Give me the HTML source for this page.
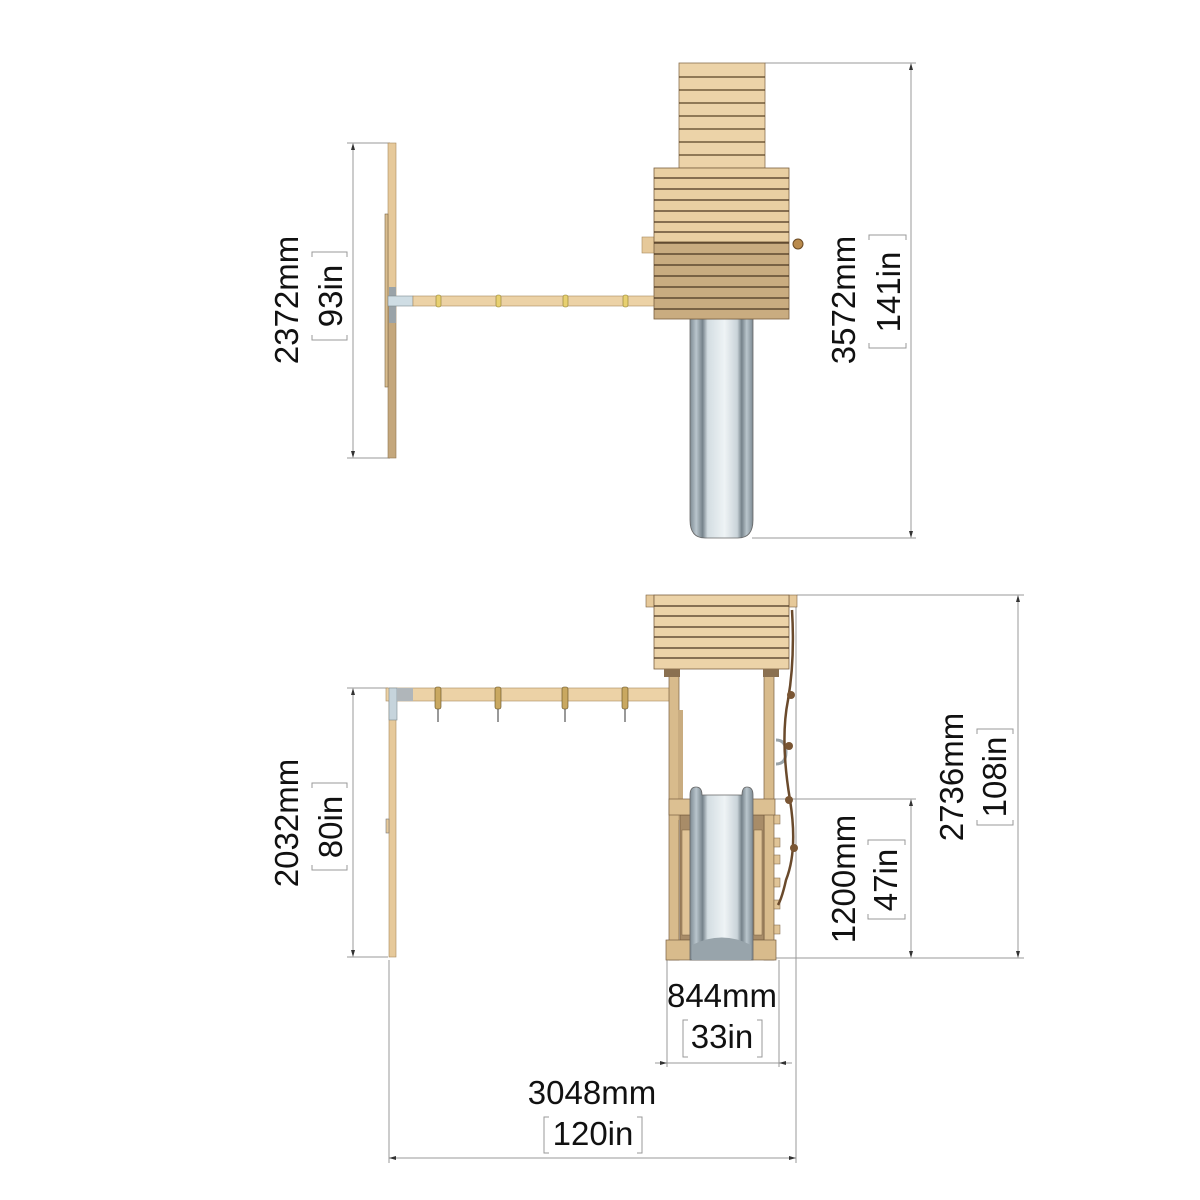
<!DOCTYPE html>
<html><head><meta charset="utf-8"><style>
html,body{margin:0;padding:0;background:#fff;}
svg{display:block;}
text{font-family:"Liberation Sans",sans-serif;font-size:33px;fill:#111;}
</style></head><body>
<svg width="1200" height="1200" viewBox="0 0 1200 1200" xmlns="http://www.w3.org/2000/svg">
<defs>
<linearGradient id="sl" x1="0" x2="1">
<stop offset="0" stop-color="#7d8a93"/><stop offset="0.1" stop-color="#b9c5cc"/><stop offset="0.2" stop-color="#75828a"/><stop offset="0.28" stop-color="#d3dde2"/><stop offset="0.55" stop-color="#eef3f5"/><stop offset="0.75" stop-color="#c9d3d9"/><stop offset="0.82" stop-color="#75828a"/><stop offset="0.9" stop-color="#b9c5cc"/><stop offset="1" stop-color="#7d8a93"/>
</linearGradient>
</defs>
<g stroke="#999" stroke-width="1" fill="none">
<line x1="347" y1="143" x2="390" y2="143"/><line x1="347" y1="458" x2="390" y2="458"/>
<line x1="353" y1="150" x2="353" y2="451"/>
<line x1="765" y1="63" x2="916" y2="63"/><line x1="752" y1="538" x2="916" y2="538"/>
<line x1="911" y1="70" x2="911" y2="531"/>
<line x1="347" y1="688" x2="388" y2="688"/><line x1="347" y1="957" x2="388" y2="957"/>
<line x1="353" y1="695" x2="353" y2="950"/>
<line x1="797" y1="595" x2="1024" y2="595"/><line x1="776" y1="958" x2="1024" y2="958"/>
<line x1="1018" y1="602" x2="1018" y2="951"/>
<line x1="775" y1="799" x2="916" y2="799"/>
<line x1="911" y1="806" x2="911" y2="951"/>
<line x1="667" y1="960" x2="667" y2="1067"/><line x1="779" y1="960" x2="779" y2="1067"/>
<line x1="655" y1="1063" x2="792" y2="1063"/>
<line x1="389" y1="960" x2="389" y2="1163"/><line x1="796" y1="596" x2="796" y2="1163"/>
<line x1="389" y1="1158" x2="796" y2="1158"/>
<path d="M312,257 V252 H347 V257 M312,335 V340 H347 V335"/>
<path d="M869,240 V235 H906 V240 M869,343 V348 H906 V343"/>
<path d="M312,788 V783 H347 V788 M312,865 V870 H347 V865"/>
<path d="M868,845 V840 H905 V845 M868,914 V919 H905 V914"/>
<path d="M977,734 V729 H1013 V734 M977,820 V825 H1013 V820"/>
<path d="M688,1020 H683 V1057 H688 M757,1020 H762 V1057 H757"/>
<path d="M549,1117 H544 V1153 H549 M637,1117 H642 V1153 H637"/>
</g>
<g fill="#333">
<path d="M353,143 l-2,7 h4z M353,458 l-2,-7 h4z M911,63 l-2,7 h4z M911,538 l-2,-7 h4z M353,688 l-2,7 h4z M353,957 l-2,-7 h4z M1018,595 l-2,7 h4z M1018,958 l-2,-7 h4z M911,799 l-2,7 h4z M911,958 l-2,-7 h4z M667,1063 l-7,-2 v4z M779,1063 l7,-2 v4z M389,1158 l7,-2 v4z M796,1158 l-7,-2 v4z"/>
</g>
<text transform="translate(298,300) rotate(-90)" text-anchor="middle">2372mm</text>
<text transform="translate(342,296) rotate(-90)" text-anchor="middle">93in</text>
<text transform="translate(855,300) rotate(-90)" text-anchor="middle">3572mm</text>
<text transform="translate(900,292) rotate(-90)" text-anchor="middle">141in</text>
<text transform="translate(298,823) rotate(-90)" text-anchor="middle">2032mm</text>
<text transform="translate(342,827) rotate(-90)" text-anchor="middle">80in</text>
<text transform="translate(855,879) rotate(-90)" text-anchor="middle">1200mm</text>
<text transform="translate(897,880) rotate(-90)" text-anchor="middle">47in</text>
<text transform="translate(963,777) rotate(-90)" text-anchor="middle">2736mm</text>
<text transform="translate(1006,777) rotate(-90)" text-anchor="middle">108in</text>
<text x="722" y="1007" text-anchor="middle">844mm</text>
<text x="722" y="1048" text-anchor="middle">33in</text>
<text x="592" y="1104" text-anchor="middle">3048mm</text>
<text x="593" y="1145" text-anchor="middle">120in</text>

<rect x="388" y="143" width="8" height="155" fill="#e6c99a" stroke="#a88a5e" stroke-width="0.6"/>
<rect x="388" y="298" width="8" height="160" fill="#c4a77c" stroke="#8f7450" stroke-width="0.6"/>
<rect x="385" y="214" width="3" height="173" fill="#d9bd8f" stroke="#7a6444" stroke-width="0.6"/>
<rect x="389" y="287" width="7" height="36" fill="#9aa3a8"/>
<rect x="388" y="296" width="25" height="10" fill="#cfdde4" stroke="#7d8a90" stroke-width="0.6"/>
<rect x="413" y="296" width="242" height="10" fill="#ecd2a6" stroke="#a88a5e" stroke-width="0.6"/>
<g fill="#e8d070" stroke="#8a7a30" stroke-width="0.6">
<rect x="436" y="295" width="5" height="12" rx="2"/><rect x="496" y="295" width="5" height="12" rx="2"/><rect x="563" y="295" width="5" height="12" rx="2"/><rect x="623" y="295" width="5" height="12" rx="2"/>
</g>
<path d="M690,319 H753 V520 Q753,538 738,538 H705 Q690,538 690,520 Z" fill="url(#sl)" stroke="#666" stroke-width="0.8"/>
<rect x="679" y="63" width="86" height="105" fill="#ecd3a8" stroke="#8a7050" stroke-width="0.8"/>
<g stroke="#5a4326" stroke-width="1.3">
<line x1="679" y1="77" x2="765" y2="77"/><line x1="679" y1="90" x2="765" y2="90"/><line x1="679" y1="103" x2="765" y2="103"/><line x1="679" y1="116" x2="765" y2="116"/><line x1="679" y1="129" x2="765" y2="129"/><line x1="679" y1="142" x2="765" y2="142"/><line x1="679" y1="155" x2="765" y2="155"/>
</g>
<rect x="642" y="237" width="14" height="16" fill="#e6c99a" stroke="#a88a5e" stroke-width="0.6"/>
<circle cx="798" cy="244" r="5" fill="#b98a4c" stroke="#6a4a24"/>
<rect x="654" y="168" width="135" height="74" fill="#e9cfa2" stroke="#7a6040" stroke-width="0.8"/>
<rect x="654" y="242" width="135" height="77" fill="#c9ac80" stroke="#7a6040" stroke-width="0.8"/>
<g stroke="#4a3520" stroke-width="1.3">
<line x1="654" y1="178" x2="789" y2="178"/><line x1="654" y1="189" x2="789" y2="189"/><line x1="654" y1="200" x2="789" y2="200"/><line x1="654" y1="211" x2="789" y2="211"/><line x1="654" y1="222" x2="789" y2="222"/><line x1="654" y1="232" x2="789" y2="232"/><line x1="654" y1="243" x2="789" y2="243"/><line x1="654" y1="254" x2="789" y2="254"/><line x1="654" y1="265" x2="789" y2="265"/><line x1="654" y1="276" x2="789" y2="276"/><line x1="654" y1="287" x2="789" y2="287"/><line x1="654" y1="298" x2="789" y2="298"/><line x1="654" y1="309" x2="789" y2="309"/>
</g>

<rect x="389" y="701" width="7" height="256" fill="#e6c99a" stroke="#a88a5e" stroke-width="0.6"/>
<rect x="386" y="819" width="3" height="14" fill="#e6c99a" stroke="#777" stroke-width="0.6"/>
<rect x="386" y="688" width="292" height="13" fill="#ecd2a6" stroke="#a88a5e" stroke-width="0.6"/>
<rect x="389" y="688" width="8" height="32" fill="#c6d4dc" stroke="#7d8a90" stroke-width="0.6"/>
<rect x="397" y="688" width="16" height="13" fill="#b0b6ba"/>
<g stroke="#555" stroke-width="1.2">
<line x1="438" y1="700" x2="438" y2="722"/><line x1="498" y1="700" x2="498" y2="722"/><line x1="565" y1="700" x2="565" y2="722"/><line x1="625" y1="700" x2="625" y2="722"/>
</g>
<g fill="#c9a860" stroke="#5a4a20" stroke-width="0.6">
<rect x="435" y="687" width="6" height="22" rx="2"/><rect x="495" y="687" width="6" height="22" rx="2"/><rect x="562" y="687" width="6" height="22" rx="2"/><rect x="622" y="687" width="6" height="22" rx="2"/>
</g>
<rect x="669" y="669" width="10" height="291" fill="#d8bb8c" stroke="#7a6040" stroke-width="0.7"/>
<rect x="764" y="669" width="10" height="291" fill="#d8bb8c" stroke="#7a6040" stroke-width="0.7"/>
<rect x="678" y="710" width="5" height="110" fill="#c9ac80"/>
<rect x="680" y="815" width="84" height="125" fill="#a88c68" stroke="#6a5236" stroke-width="0.6"/>
<g fill="#e0c497" stroke="#7a6040" stroke-width="0.5">
<rect x="682" y="830" width="8" height="105"/><rect x="754" y="830" width="8" height="105"/>
<rect x="774" y="815" width="6" height="9"/><rect x="774" y="838" width="6" height="9"/><rect x="774" y="855" width="6" height="9"/><rect x="774" y="878" width="6" height="9"/><rect x="774" y="900" width="6" height="9"/><rect x="774" y="925" width="6" height="9"/>
</g>
<rect x="669" y="799" width="106" height="16" fill="#dcc092" stroke="#7a6040" stroke-width="0.7"/>
<rect x="666" y="940" width="110" height="20" fill="#d8bb8c" stroke="#7a6040" stroke-width="0.7"/>
<path d="M690,795 Q690,787 696,787 Q702,787 702,795 L742,795 Q742,787 747,787 Q753,787 753,795 V960 H690 Z" fill="url(#sl)" stroke="#666" stroke-width="0.8"/>
<path d="M692,945 Q722,930 751,945 V960 H692Z" fill="#98a4ab"/>
<path d="M776,740 Q786,740 786,752 Q786,764 776,764" fill="none" stroke="#9aa3a8" stroke-width="3"/>
<path d="M792,610 Q795,660 788,700 Q780,740 790,800 Q798,850 786,880 Q782,898 778,905" fill="none" stroke="#6a4a2c" stroke-width="2.5"/>
<g fill="#7a5634"><circle cx="791" cy="695" r="4"/><circle cx="789" cy="746" r="4"/><circle cx="789" cy="800" r="4"/><circle cx="794" cy="848" r="4"/></g>
<rect x="646" y="595" width="8" height="12" fill="#e6c99a" stroke="#7a6040" stroke-width="0.6"/>
<rect x="789" y="595" width="8" height="12" fill="#e6c99a" stroke="#7a6040" stroke-width="0.6"/>
<rect x="654" y="595" width="135" height="74" fill="#ecd3a8" stroke="#7a6040" stroke-width="0.8"/>
<g stroke="#4a3520" stroke-width="1.3">
<line x1="654" y1="606" x2="789" y2="606"/><line x1="654" y1="616" x2="789" y2="616"/><line x1="654" y1="627" x2="789" y2="627"/><line x1="654" y1="637" x2="789" y2="637"/><line x1="654" y1="648" x2="789" y2="648"/><line x1="654" y1="658" x2="789" y2="658"/>
</g>
<rect x="664" y="669" width="16" height="8" fill="#8a7050"/><rect x="763" y="669" width="16" height="8" fill="#8a7050"/>
</svg>
</body></html>
